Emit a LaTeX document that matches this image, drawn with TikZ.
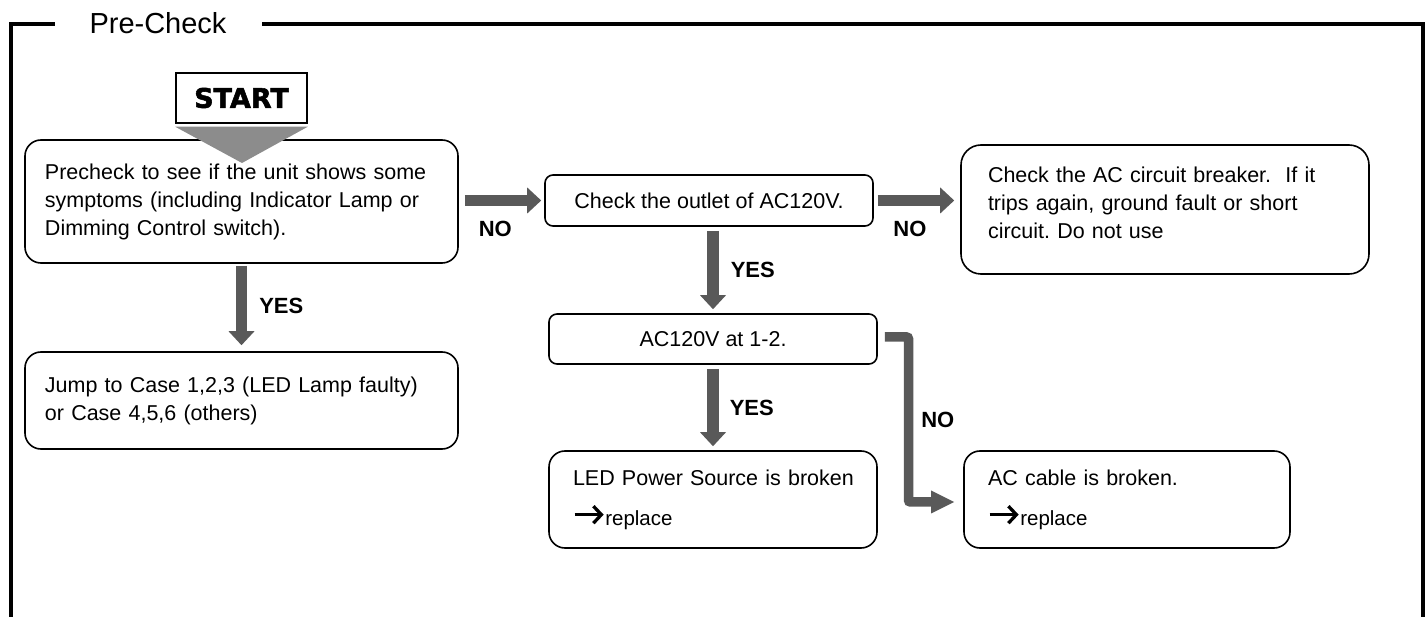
\documentclass[tikz,border=0pt]{standalone}
\usepackage{fontspec}
\setmainfont{Liberation Sans}
\newfontfamily\heavyfont[FakeBold=2]{DejaVu Sans Bold}
\usetikzlibrary{arrows.meta,calc}
\definecolor{arrowgray}{HTML}{595959}
\definecolor{trigray}{HTML}{8C8C8C}
\tikzset{
  fbox/.style={draw, line width=1.6pt, inner ysep=0pt, align=left,
    font=\fontsize{21.5}{28}\selectfont},
  cbox/.style={draw, line width=1.6pt, inner sep=0pt, align=center,
    font=\fontsize{21.5}{28}\selectfont},
  bigarrow/.style={draw=arrowgray, line width=11.5pt,
    -{Triangle[width=26pt,length=14pt,line width=0pt]}},
  elbowarrow/.style={draw=arrowgray, line width=9.5pt, rounded corners=2pt,
    -{Triangle[width=23pt,length=23pt,line width=0pt]}},
  lbl/.style={font=\bfseries\fontsize{22}{26}\selectfont, inner sep=0pt},
  frameline/.style={line width=4pt}
}
\newcommand\replacetext{\tikz[baseline=-10.5pt, x=1pt, y=1pt]\draw[black, line width=3.3pt, rounded corners=0pt, -{Straight Barb[length=8pt,width=17pt]}] (0pt,0pt) -- (29pt,0pt);{\fontsize{20.5}{20}\selectfont replace}}
\begin{document}
\frenchspacing
\hyphenpenalty=10000
\exhyphenpenalty=10000
\begin{tikzpicture}[x=1pt,y=-1pt]
\useasboundingbox (0,0) rectangle (1428,617);

% frame
\draw[frameline] (11,617) -- (11,24) -- (55,24);
\draw[frameline] (262,24) -- (1423,24) -- (1423,617);
\node[font=\fontsize{29}{34}\selectfont, inner sep=0pt, anchor=base] (title) at (158,34) {Pre-Check};

% boxes
\node[fbox, rounded corners=16pt, minimum width=433pt, minimum height=123pt,
  text width=393pt, inner xsep=20pt] (a) at (241.5,201.5)
  {Precheck to see if the unit shows some\\symptoms (including Indicator Lamp or\\Dimming Control switch).};

\node[draw, line width=1.5pt, minimum width=131pt, minimum height=50pt, inner sep=0pt,
  font=\heavyfont\fontsize{27}{30}\selectfont] (start) at (241.5,98) {START};
\fill[trigray] ($(start.south west)+(0,3)$) -- ($(start.south east)+(0,3)$) -- (242,163) -- cycle;

\node[fbox, rounded corners=16pt, minimum width=433pt, minimum height=97pt,
  text width=393pt, inner xsep=20pt] (b) at (241.5,400.5)
  {Jump to Case 1,2,3 (LED Lamp faulty)\\or Case 4,5,6 (others)};

\node[cbox, rounded corners=8pt, minimum width=328pt, minimum height=51pt] (o) at (709,200.5)
  {Check the outlet of AC120V.};

\node[fbox, rounded corners=20pt, minimum width=408pt, minimum height=129pt,
  text width=354pt, inner xsep=27pt] (c) at (1165,209.5)
  {Check the AC circuit breaker.\ \ If it\\trips again, ground fault or short\\circuit. Do not use\\[-14pt]\mbox{}};

\node[cbox, rounded corners=8pt, minimum width=328pt, minimum height=50pt] (ac) at (713,339)
  {AC120V at 1-2.};

\node[fbox, rounded corners=16pt, minimum width=328pt, minimum height=97pt,
  text width=296pt, inner xsep=16pt] (led) at (713,499.5)
  {\hspace*{8pt}LED Power Source is broken\\[12pt]\hspace*{8pt}\replacetext};

\node[fbox, rounded corners=16pt, minimum width=326pt, minimum height=97pt,
  text width=278pt, inner xsep=24pt] (cable) at (1127,499.5)
  {AC cable is broken.\\[12pt]\replacetext};

% connectors
\draw[bigarrow] ($(a.south)+(0,2)$) -- node[lbl, midway, right=12pt] (yes1) {YES} ($(b.north)+(0,-6)$);
\draw[bigarrow] ($(a.east |- o.west)+(6,0)$) -- node[lbl, pos=0.4, below=15pt] (no1) {NO} ($(o.west)+(-3,0)$);
\draw[bigarrow] ($(o.east)+(4,0)$) -- node[lbl, pos=0.42, below=15pt] (no2) {NO} ($(o.east -| c.west)+(-6,0)$);
\draw[bigarrow] ($(ac.north |- o.south)+(0,4)$) -- node[lbl, midway, right=12pt] (yes2) {YES} ($(ac.north)+(0,-4)$);
\draw[bigarrow] ($(ac.south)+(0,4)$) -- node[lbl, midway, right=11pt] (yes3) {YES} ($(led.north)+(0,-4)$);
\draw[elbowarrow] ($(ac.east)+(7,-2)$) -- (908.5,337) -- node[lbl, midway, right=8pt] (no3) {NO} (908.5,502) -- ($(cable.west)+(-9,2.5)$);
\end{tikzpicture}
\end{document}
